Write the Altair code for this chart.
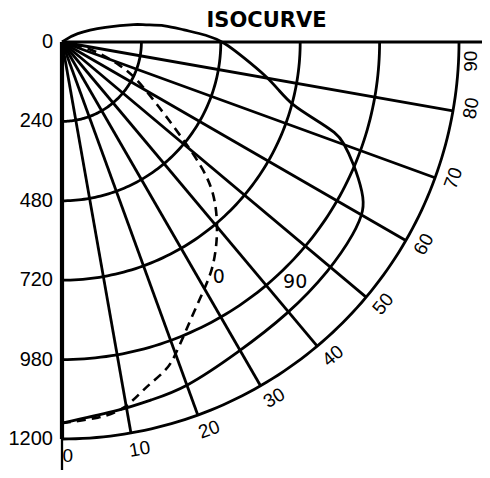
import altair as alt
import numpy as np
import pandas as pd

# ---- data ----
TITLE = "ISOCURVE"
RING_VALUES = [240, 480, 720, 960, 1200]
RADIAL_TICK_POS = [0, 240, 480, 720, 960, 1200]
RADIAL_TICK_TEXT = ["0", "240", "480", "720", "980", "1200"]
SPOKE_ANGLES = [0, 10, 20, 30, 40, 50, 60, 70, 80, 90]
ANGLE_TEXT = ["0", "10", "20", "30", "40", "50", "60", "70", "80", "90"]

# 90-degree plane (solid)
SOLID_ANGLE = [0, 9.4, 13.8, 19.5, 29.5, 39.6, 49.6, 57, 60.9, 63.3, 67.4, 70.5,
               71.6, 73, 74.6, 77.5, 80.4, 85, 90, 92.8, 95.7, 99.4, 101.8, 103.3,
               109.6, 123.8, 126]
SOLID_CD = [1152, 1127, 1115, 1112, 1079, 1070, 1064, 1056, 1045, 1019, 955, 901,
            875, 801, 722, 671, 628, 553, 490, 438, 368, 316, 251, 237,
            138, 47, 0]
# 0-degree plane (dashed)
DASHED_ANGLE = [0, 5.8, 9.5, 12.5, 14.5, 17.8, 19.7, 22.9, 28.5, 33.6, 39.5, 45,
                48.2, 51.8, 55.9, 64.1, 68.4, 78, 80]
DASHED_CD = [1152, 1143, 1127, 1088, 1066, 1040, 1010, 955, 877, 827, 743, 654,
             573, 454, 358, 251, 189, 92, 0]

CURVE_TEXT = ["0", "90"]
CURVE_TEXT_ANGLE = [33.7, 44.2]
CURVE_TEXT_CD = [854, 1011]

# ---- layout constants ----
K = 397 / 1200.0          # px per candela
W, H = 474, 462
OX, OY = 62 - 8, 42 - 8   # origin inside the view
XDOM = [-OX / K, (W - OX) / K]
YDOM = [-OY / K, (H - OY) / K]
LW = 2.8

# ---- build tables ----
rows = []
for a in SPOKE_ANGLES:
    end = 1300 if a == 90 else 1200
    rows += [dict(group=f"s{a}", idx=0, angle=a, r=0, sw=LW),
             dict(group=f"s{a}", idx=1, angle=a, r=end, sw=LW)]
for rv in RING_VALUES:
    for i, a in enumerate(np.linspace(0, 90, 91)):
        rows.append(dict(group=f"r{rv}", idx=i, angle=float(a), r=rv, sw=LW))
rows += [dict(group="axis", idx=0, angle=0, r=0, sw=4.2),
         dict(group="axis", idx=1, angle=0, r=1200, sw=4.2),
         dict(group="axis2", idx=0, angle=0, r=1200, sw=2.3),
         dict(group="axis2", idx=1, angle=0, r=1320, sw=2.3)]
grid = pd.DataFrame(rows)

solid = pd.DataFrame({"angle": SOLID_ANGLE, "r": SOLID_CD,
                      "idx": range(len(SOLID_CD))})
dashed = pd.DataFrame({"angle": DASHED_ANGLE, "r": DASHED_CD,
                       "idx": range(len(DASHED_CD))})
rtick = pd.DataFrame({"angle": 0, "r": RADIAL_TICK_POS, "text": RADIAL_TICK_TEXT})
atick = pd.DataFrame({"a": SPOKE_ANGLES, "text": ANGLE_TEXT})
ctext = pd.DataFrame({"angle": CURVE_TEXT_ANGLE, "r": CURVE_TEXT_CD,
                      "text": CURVE_TEXT})

xs = alt.Scale(domain=XDOM, nice=False, zero=False)
ys = alt.Scale(domain=YDOM, nice=False, zero=False, reverse=True)
X = alt.X("x:Q", scale=xs, axis=None)
Y = alt.Y("y:Q", scale=ys, axis=None)


def polar(ch):
    return ch.transform_calculate(
        x="datum.r * sin(datum.angle * PI / 180)",
        y="datum.r * cos(datum.angle * PI / 180)",
    )


grid_l = polar(alt.Chart(grid).mark_line(color="black", strokeCap="butt")).encode(
    x=X, y=Y, detail="group:N", order="idx:Q",
    strokeWidth=alt.StrokeWidth("sw:Q", scale=None))

solid_l = polar(alt.Chart(solid).mark_line(
    color="black", strokeWidth=LW, interpolate="basis")).encode(
    x=X, y=Y, order="idx:Q")

dashed_l = polar(alt.Chart(dashed).mark_line(
    color="black", strokeWidth=2.6, strokeDash=[9, 6], interpolate="basis")).encode(
    x=X, y=Y, order="idx:Q")

rtick_l = polar(alt.Chart(rtick).mark_text(
    align="right", baseline="middle", dx=-9, fontSize=20,
    font="Liberation Sans", color="black")).encode(x=X, y=Y, text="text:N")

atick_l = alt.Chart(atick).transform_calculate(
    angle="min(datum.a + 0.8, 87.3)",
    r="datum.a == 90 ? 1238 : 1253",
    rot="(360 - datum.a) % 360",
).transform_calculate(
    x="datum.r * sin(datum.angle * PI / 180)",
    y="datum.r * cos(datum.angle * PI / 180)",
).mark_text(align="center", baseline="middle", fontSize=19,
            font="Liberation Sans", color="black").encode(
    x=X, y=Y, text="text:N", angle=alt.Angle("rot:Q", scale=None))

ctext_l = polar(alt.Chart(ctext).mark_text(
    align="center", baseline="middle", fontSize=19,
    font="DejaVu Sans", color="black")).encode(x=X, y=Y, text="text:N")

title_l = alt.Chart(pd.DataFrame({"text": [TITLE]})).mark_text(
    align="center", baseline="top", fontSize=21, fontWeight="bold",
    font="DejaVu Sans", color="black").encode(
    x=alt.value(258.5), y=alt.value(2), text="text:N")

chart = alt.layer(grid_l, solid_l, dashed_l, rtick_l, atick_l, ctext_l, title_l).properties(
    width=W, height=H, padding=0,
    autosize=alt.AutoSizeParams(type="none"),
).configure_view(stroke=None)

chart.save("out.html", embed_options={"renderer": "svg", "actions": False})
